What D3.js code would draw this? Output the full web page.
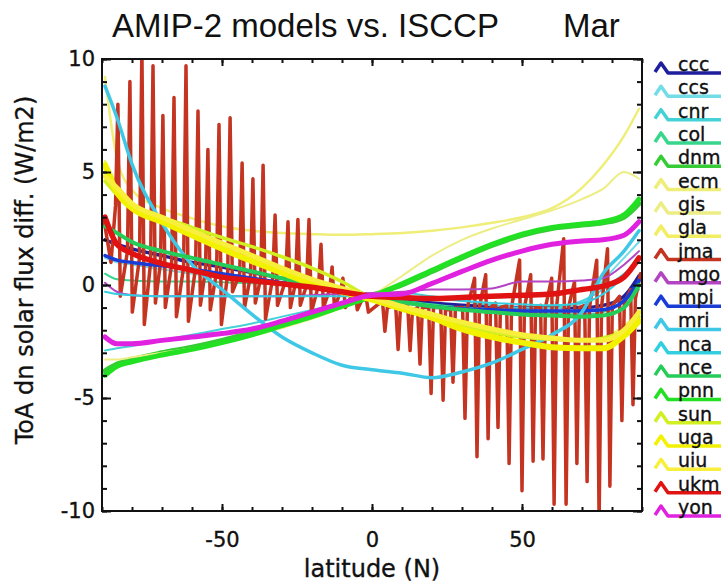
<!DOCTYPE html>
<html>
<head>
<meta charset="utf-8">
<title>AMIP-2 models vs. ISCCP Mar</title>
<script src="https://d3js.org/d3.v7.min.js"></script>
<style>
  body { margin: 0; background: #fff; }
  text { fill: #111; }
  .tick line { stroke: #111; stroke-width: 2; }
  .tick text { font-family: "DejaVu Sans", sans-serif; font-size: 21px; fill: #111; stroke: #111; stroke-width: 0.35px; }
  .lbl { font-family: "DejaVu Sans", sans-serif; stroke: #111; stroke-width: 0.35px; }
</style>
</head>
<body>
<svg id="chart" width="721" height="582"></svg>
<script>
// latitude grid shared by the smooth model curves
const lats = [-89, -85, -80, -70, -60, -50, -40, -30, -20, -10, 0, 10, 20, 30, 40, 50, 60, 70, 77, 84, 89];

const models = ["ccc", "ccs", "cnr", "col", "dnm", "ecm", "gis", "gla", "jma", "mgo",
                "mpi", "mri", "nca", "nce", "pnn", "sun", "uga", "uiu", "ukm", "yon"];

// ToA downward solar flux difference (W/m2)
const ccc = [2.0, 1.8, 1.6, 1.3, 1.0, 0.8, 0.55, 0.3, 0.05, -0.2, -0.45, -0.65, -0.8, -0.9, -0.95, -1.0, -1.0, -1.0, -0.9, -0.5, 0.4];
const ccs = [1.2, 1.0, 0.9, 0.7, 0.5, 0.35, 0.2, 0.05, -0.15, -0.35, -0.55, -0.75, -0.9, -1.0, -1.05, -1.1, -1.05, -0.8, 0.2, 1.2, 1.9];
const cnr = [-2.9, -2.8, -2.7, -2.45, -2.2, -1.95, -1.7, -1.4, -1.1, -0.8, -0.5, -0.35, -0.5, -0.7, -0.9, -1.0, -1.0, -0.7, -0.2, 0.5, 1.0];
const col = [0.5, 0.25, 0.2, 0.15, 0.15, 0.12, 0.08, 0.0, -0.15, -0.3, -0.5, -0.7, -0.85, -1.0, -1.1, -1.2, -1.25, -1.3, -1.2, -0.7, -0.2];
const dnm = [-3.8, -3.5, -3.3, -3.0, -2.75, -2.45, -2.1, -1.7, -1.3, -0.9, -0.45, 0.0, 0.6, 1.2, 1.75, 2.2, 2.5, 2.65, 2.75, 3.0, 3.6];
const ecm = [9.2, 5.6, 4.2, 3.4, 2.95, 2.6, 2.4, 2.3, 2.25, 2.22, 2.25, 2.3, 2.4, 2.55, 2.75, 3.0, 3.4, 4.3, 5.3, 6.6, 7.8];
const gis = [-3.3, -3.3, -3.2, -3.0, -2.8, -2.55, -2.25, -1.9, -1.5, -1.0, -0.45, 0.4, 1.3, 2.0, 2.5, 2.9, 3.3, 3.8, 4.25, 5.0, 4.7];
const gla = [5.5, 4.5, 3.6, 3.0, 2.4, 1.8, 1.2, 0.7, 0.2, -0.2, -0.5, -0.9, -1.3, -1.7, -2.0, -2.2, -2.35, -2.4, -2.3, -1.8, -1.2];
const mgo = [0.1, -0.3, -0.45, -0.5, -0.5, -0.5, -0.5, -0.5, -0.45, -0.4, -0.35, -0.3, -0.2, -0.2, -0.15, 0.15, 0.15, 0.2, 0.3, 0.9, 1.5];
const mpi = [1.3, 1.1, 1.0, 0.85, 0.7, 0.5, 0.3, 0.1, -0.1, -0.3, -0.5, -0.75, -0.95, -1.05, -1.1, -1.15, -1.15, -1.15, -1.1, -0.7, 0.2];
const mri = [8.8, 7.4, 5.35, 2.75, 0.9, -0.2, -1.3, -2.3, -3.0, -3.55, -3.75, -3.9, -4.1, -3.85, -3.45, -2.85, -2.2, -1.2, 0.5, 1.5, 2.4];
const nca = [-0.3, -0.4, -0.45, -0.5, -0.5, -0.5, -0.5, -0.5, -0.5, -0.5, -0.5, -0.5, -0.6, -0.7, -0.8, -0.85, -0.9, -0.8, -0.4, 0.4, 1.2];
const nce = [2.6, 2.3, 1.9, 1.5, 1.2, 0.9, 0.6, 0.3, 0.0, -0.25, -0.5, -0.75, -0.95, -1.1, -1.2, -1.3, -1.35, -1.4, -1.35, -1.0, 0.0];
const pnn = [-4.0, -3.6, -3.4, -3.1, -2.85, -2.55, -2.2, -1.8, -1.4, -0.95, -0.5, 0.05, 0.65, 1.25, 1.8, 2.25, 2.55, 2.7, 2.8, 3.1, 3.8];
const sun = [4.6, 4.0, 3.5, 3.0, 2.55, 2.1, 1.7, 1.25, 0.75, 0.15, -0.6, -1.1, -1.45, -1.8, -2.1, -2.3, -2.4, -2.45, -2.35, -2.0, -1.4];
const uga = [5.3, 4.1, 3.4, 2.8, 2.2, 1.6, 1.05, 0.55, 0.05, -0.3, -0.65, -1.05, -1.45, -1.95, -2.3, -2.55, -2.75, -2.8, -2.8, -2.25, -1.6];
const uiu = [4.8, 4.3, 3.6, 3.0, 2.4, 1.85, 1.3, 0.75, 0.25, -0.15, -0.55, -0.95, -1.3, -1.65, -1.95, -2.2, -2.35, -2.45, -2.45, -2.0, -1.2];
const ukm = [3.0, 1.8, 1.4, 0.95, 0.65, 0.35, 0.2, 0.05, -0.1, -0.3, -0.5, -0.55, -0.6, -0.55, -0.5, -0.45, -0.4, -0.2, -0.05, 0.35, 1.2];
const yon = [-2.3, -2.6, -2.6, -2.45, -2.3, -2.15, -1.95, -1.6, -1.2, -0.8, -0.45, -0.4, 0.07, 0.6, 1.1, 1.5, 1.8, 1.95, 2.0, 2.2, 2.8];

// jma has narrow spikes, so it keeps its own [latitude, value] points
const jmaSouth = [
  [-89.5, 3.0], [-87.0, 1.0],
  [-85.5, 3.5], [-84.7, 8.0], [-83.9, -0.5],
  [-81.5, 1.5], [-80.7, 9.0], [-79.9, -1.2],
  [-77.5, 1.2], [-76.7, 10.5], [-75.9, -1.75],
  [-73.8, 1.0], [-73.0, 9.7], [-72.2, -0.8],
  [-70.5, 1.0], [-69.7, 7.5], [-68.9, -1.0],
  [-66.8, 0.9], [-66.0, 8.3], [-65.2, -1.4],
  [-62.8, 0.8], [-62.0, 9.7], [-61.2, -1.6],
  [-58.8, 0.8], [-58.0, 7.7], [-57.2, -0.9],
  [-55.5, 0.7], [-54.7, 6.0], [-53.9, -1.1],
  [-51.8, 0.6], [-51.0, 7.1], [-50.2, -1.75],
  [-48.1, 0.5], [-47.3, 7.4], [-46.5, -0.3],
  [-44.1, 0.5], [-43.3, 5.4], [-42.5, -1.0],
  [-40.5, 0.4], [-39.7, 4.7], [-38.9, -0.8],
  [-37.1, 0.3], [-36.3, 5.3], [-35.5, -1.5],
  [-33.1, 0.3], [-32.3, 3.1], [-31.5, -0.9],
  [-28.8, 0.2], [-28.0, 2.8], [-27.2, -1.0],
  [-25.5, 0.1], [-24.7, 2.9], [-23.9, -0.9],
  [-21.8, 0.0], [-21.0, 2.9], [-20.2, -1.2],
  [-17.8, 0.0], [-17.0, 1.8], [-16.2, -1.0],
  [-14.1, -0.2], [-13.3, 0.8], [-12.5, -1.0],
  [-10.5, -0.3], [-9.7, 0.3], [-8.9, -1.0],
  [-6.5, -0.4], [-5.7, -0.2], [-4.9, -1.1],
  [-2.8, -0.5], [-2.0, -0.5], [-1.2, -1.2]
];
const jmaNorth = [
  [3.5, -0.7], [4.3, -2.05], [5.1, -1.0],
  [7.9, -0.9], [8.7, -2.85], [9.5, -1.0],
  [11.9, -0.9], [12.7, -2.9], [13.5, -1.1],
  [15.2, -1.0], [16.0, -3.5], [16.8, -1.0],
  [18.9, -1.0], [19.7, -4.8], [20.5, -1.0],
  [22.9, -1.0], [23.7, -5.1], [24.5, -1.1],
  [26.2, -1.1], [27.0, -4.3], [27.8, -1.0],
  [30.2, -1.0], [31.0, -5.9], [31.8, -1.0],
  [34.2, 0.3], [35.0, -7.6], [35.8, -1.0],
  [37.9, 0.45], [38.7, -6.8], [39.5, -1.0],
  [41.2, -0.8], [42.0, -6.3], [42.8, -1.0],
  [44.9, -0.9], [45.7, -7.9], [46.5, -1.0],
  [49.2, 1.1], [50.0, -9.1], [50.8, -1.0],
  [52.9, 0.45], [53.7, -7.8], [54.5, -1.0],
  [56.2, -0.9], [57.0, -7.7], [57.8, -1.0],
  [59.9, 0.3], [60.7, -9.7], [61.5, -1.0],
  [63.9, 2.05], [64.7, -9.7], [65.5, -1.0],
  [67.5, 0.15], [68.3, -7.9], [69.1, -1.0],
  [70.9, -0.9], [71.7, -8.7], [72.5, -1.0],
  [74.9, 1.1], [75.7, -10.5], [76.5, -1.0],
  [78.5, 1.6], [79.3, -8.9], [80.1, -0.9],
  [82.5, -0.5], [83.3, -6.0], [84.1, -0.8],
  [86.2, -0.2], [87.0, -5.3], [87.8, -0.6],
  [89.5, 0.5]
];

const seriesValues = { ccc, ccs, cnr, col, dnm, ecm, gis, gla, mgo, mpi, mri, nca, nce, pnn, sun, uga, uiu, ukm, yon };

// line styles per model
const colorOf = {
  ccc: "#1f1f9e", ccs: "#72dde6", cnr: "#45d2d6", col: "#38d68c", dnm: "#36cc36",
  ecm: "#eeee78", gis: "#eded86", gla: "#f2ee62", jma: "#c43421", mgo: "#b445c2",
  mpi: "#1a3cd6", mri: "#3fc8e6", nca: "#33cfe0", nce: "#25cc58", pnn: "#22e022",
  sun: "#d2ef22", uga: "#f2f200", uiu: "#f7ef3c", ukm: "#e01212", yon: "#e022e0"
};
const widthOf = {
  ccc: 3.5, ccs: 2, cnr: 2, col: 2, dnm: 5, ecm: 2.5, gis: 2, gla: 2, jma: 3.5, mgo: 2,
  mpi: 3.5, mri: 3.5, nca: 2, nce: 4, pnn: 5, sun: 3.5, uga: 6, uiu: 5, ukm: 5.5, yon: 5
};

const svg = d3.select("#chart");

const x = d3.scaleLinear().domain([-90, 90]).range([102, 642]);
const y = d3.scaleLinear().domain([-10, 10]).range([511, 59]);

svg.append("clipPath").attr("id", "clip")
  .append("rect")
  .attr("x", x(-90)).attr("y", y(10))
  .attr("width", x(90) - x(-90)).attr("height", y(-10) - y(10));

const plot = svg.append("g").attr("clip-path", "url(#clip)");

const smooth = d3.line().x(d => x(d[0])).y(d => y(d[1])).curve(d3.curveMonotoneX);
const jagged = d3.line().x(d => x(d[0])).y(d => y(d[1]));

models.forEach(m => {
  const pts = m === "jma" ? jmaSouth.concat(jmaNorth)
                          : lats.map((la, i) => [la, seriesValues[m][i]]);
  plot.append("path")
    .datum(pts)
    .attr("d", m === "jma" ? jagged : smooth)
    .attr("fill", "none")
    .attr("stroke", colorOf[m])
    .attr("stroke-width", widthOf[m])
    .attr("stroke-linejoin", "round")
    .attr("stroke-linecap", "round");
});

// axes, IDL style: ticks pointing inwards on all four sides
const minorX = d3.range(-90, 91, 10);
const majorX = [-50, 0, 50];
const minorY = d3.range(-10, 11, 1);
const majorY = [-10, -5, 0, 5, 10];
const plain = d => String(d);   // hyphen-minus like the original

function clean(g) { g.select(".domain").remove(); }

svg.append("g").attr("transform", `translate(0,${y(-10)})`)
  .call(d3.axisBottom(x).tickValues(minorX).tickSize(-4).tickFormat("")).call(clean);
svg.append("g").attr("transform", `translate(0,${y(-10)})`)
  .call(d3.axisBottom(x).tickValues(majorX).tickSize(-7).tickPadding(21).tickFormat(plain)).call(clean);
svg.append("g").attr("transform", `translate(0,${y(10)})`)
  .call(d3.axisTop(x).tickValues(minorX).tickSize(-4).tickFormat("")).call(clean);
svg.append("g").attr("transform", `translate(0,${y(10)})`)
  .call(d3.axisTop(x).tickValues(majorX).tickSize(-7).tickFormat("")).call(clean);

svg.append("g").attr("transform", `translate(${x(-90)},0)`)
  .call(d3.axisLeft(y).tickValues(minorY).tickSize(-5).tickFormat("")).call(clean);
svg.append("g").attr("transform", `translate(${x(-90)},0)`)
  .call(d3.axisLeft(y).tickValues(majorY).tickSize(-9).tickPadding(7).tickFormat(plain)).call(clean);
svg.append("g").attr("transform", `translate(${x(90)},0)`)
  .call(d3.axisRight(y).tickValues(minorY).tickSize(-5).tickFormat("")).call(clean);
svg.append("g").attr("transform", `translate(${x(90)},0)`)
  .call(d3.axisRight(y).tickValues(majorY).tickSize(-9).tickFormat("")).call(clean);

svg.append("rect")
  .attr("x", x(-90)).attr("y", y(10))
  .attr("width", x(90) - x(-90)).attr("height", y(-10) - y(10))
  .attr("fill", "none").attr("stroke", "#111").attr("stroke-width", 2);

// titles
svg.append("text").attr("x", 112).attr("y", 37)
  .style("font-family", "'Liberation Sans', Arial, sans-serif").style("font-size", "33px")
  .text("AMIP-2 models vs. ISCCP");
svg.append("text").attr("x", 563).attr("y", 37)
  .style("font-family", "'Liberation Sans', Arial, sans-serif").style("font-size", "33px")
  .text("Mar");

svg.append("text").attr("class", "lbl")
  .attr("transform", `translate(${x(0)},577)`)
  .attr("text-anchor", "middle")
  .style("font-size", "24px")
  .text("latitude (N)");

svg.append("text").attr("class", "lbl")
  .attr("transform", `translate(33,${y(0) - 15}) rotate(-90)`)
  .attr("text-anchor", "middle")
  .style("font-size", "24px")
  .text("ToA dn solar flux diff. (W/m2)");

// legend
const ly = d3.scaleLinear().domain([0, models.length - 1]).range([73, 516]);
const glyph = d3.line().curve(d3.curveLinear);

const legend = svg.append("g").selectAll("g")
  .data(models)
  .join("g")
  .attr("transform", (d, i) => `translate(655,${ly(i)})`);

legend.append("path")
  .attr("d", glyph([[0, -1], [6, -10], [13, 0], [70, 0]]))
  .attr("fill", "none")
  .attr("stroke", d => colorOf[d])
  .attr("stroke-width", 3.5)
  .attr("stroke-linejoin", "round");

legend.append("text").attr("class", "lbl")
  .attr("x", 23).attr("y", -2)
  .style("font-size", "19px")
  .text(d => d);
</script>
</body>
</html>
